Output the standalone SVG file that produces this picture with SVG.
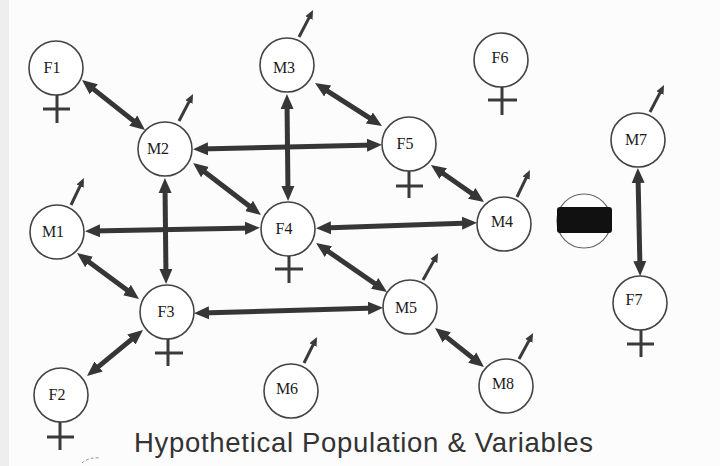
<svg xmlns="http://www.w3.org/2000/svg" width="720" height="466" viewBox="0 0 720 466">
  <style>
    .node circle { fill: #ffffff; stroke: #444; stroke-width: 1.6; }
    .lbl { font-family: "Liberation Serif", "Times New Roman", serif; font-size: 16px; fill: #1a1a1a; text-anchor: middle; }
    .venus { stroke: #3a3a3a; stroke-width: 3; fill: none; }
    .mars { stroke: #3a3a3a; stroke-width: 3; marker-end: url(#headSmall); }
    .link { stroke: #363636; stroke-width: 5; fill: none; marker-start: url(#headBig); marker-end: url(#headBig); }
    .title { font-family: "Liberation Sans", Arial, sans-serif; font-size: 27.5px; fill: #333; }
  </style>
  <defs>
    <marker id="headBig" viewBox="0 -7 15 14" refX="8" refY="0" markerWidth="15" markerHeight="14" markerUnits="userSpaceOnUse" orient="auto-start-reverse">
      <path d="M0,-6.5 L15,0 L0,6.5 z" fill="#363636"/>
    </marker>
    <marker id="headSmall" viewBox="0 -4.5 9 9" refX="5" refY="0" markerWidth="9" markerHeight="9" markerUnits="userSpaceOnUse" orient="auto">
      <path d="M0,-4 L9,0 L0,4 z" fill="#3a3a3a"/>
    </marker>
  </defs>

  <!-- paper -->
  <rect x="0" y="0" width="720" height="466" fill="#fcfcfc"/>
  <rect x="0" y="0" width="9" height="466" fill="#eeeeee"/>
  <path d="M82,463 q6,-6 18,-5" stroke="#999" stroke-width="1" stroke-dasharray="3 2" fill="none"/>

  <!-- relationships -->
  <g id="connectors">
    <line class="link" x1="87.5" y1="84.4" x2="139.5" y2="125.6"/>
    <line class="link" x1="200" y1="149" x2="375" y2="145"/>
    <line class="link" x1="287" y1="101" x2="288" y2="194"/>
    <line class="link" x1="320.9" y1="86.8" x2="376.1" y2="122.2"/>
    <line class="link" x1="198.6" y1="167.2" x2="255.4" y2="210.8"/>
    <line class="link" x1="165" y1="185" x2="166" y2="277"/>
    <line class="link" x1="92" y1="231" x2="253" y2="228"/>
    <line class="link" x1="323" y1="228" x2="470" y2="223"/>
    <line class="link" x1="436.7" y1="169" x2="478.3" y2="198"/>
    <line class="link" x1="82.6" y1="257.2" x2="133.4" y2="294.8"/>
    <line class="link" x1="321.8" y1="247" x2="381.2" y2="288"/>
    <line class="link" x1="201" y1="313" x2="376" y2="308"/>
    <line class="link" x1="137.6" y1="334.4" x2="92.4" y2="371.6"/>
    <line class="link" x1="440.5" y1="332.4" x2="478.5" y2="362.6"/>
    <line class="link" x1="638" y1="175" x2="640" y2="269"/>
  </g>

  <!-- females -->
  <g id="F1" class="node">
    <circle cx="56" cy="68" r="27"/>
    <path class="venus" d="M57,95 V123 M43,109 H70"/>
    <text class="lbl" x="52" y="73">F1</text>
  </g>
  <g id="F2" class="node">
    <circle cx="61" cy="395" r="27"/>
    <path class="venus" d="M60,422 V450 M47,437 H74"/>
    <text class="lbl" x="57" y="400">F2</text>
  </g>
  <g id="F3" class="node">
    <circle cx="167" cy="312" r="27"/>
    <path class="venus" d="M168,339 V366 M155,353 H183"/>
    <text class="lbl" x="166" y="317">F3</text>
  </g>
  <g id="F4" class="node">
    <circle cx="288" cy="229" r="27"/>
    <path class="venus" d="M289,256 V283 M275,269 H303"/>
    <text class="lbl" x="284" y="234">F4</text>
  </g>
  <g id="F5" class="node">
    <circle cx="409" cy="144" r="27"/>
    <path class="venus" d="M409,171 V198 M396,186 H423"/>
    <text class="lbl" x="405" y="149">F5</text>
  </g>
  <g id="F6" class="node">
    <circle cx="501" cy="60" r="27"/>
    <path class="venus" d="M502,87 V115 M488,100 H517"/>
    <text class="lbl" x="500" y="63">F6</text>
  </g>
  <g id="F7" class="node">
    <circle cx="640" cy="303" r="27"/>
    <path class="venus" d="M641,330 V357 M627,344 H654"/>
    <text class="lbl" x="634" y="305">F7</text>
  </g>

  <!-- males -->
  <g id="M1" class="node">
    <circle cx="57" cy="232" r="27"/>
    <line class="mars" x1="71" y1="205" x2="82.2" y2="181.6"/>
    <text class="lbl" x="53" y="237">M1</text>
  </g>
  <g id="M2" class="node">
    <circle cx="165" cy="149" r="27"/>
    <line class="mars" x1="179" y1="121" x2="191.2" y2="97.6"/>
    <text class="lbl" x="158" y="154">M2</text>
  </g>
  <g id="M3" class="node">
    <circle cx="287" cy="65" r="27"/>
    <line class="mars" x1="299" y1="37" x2="311.2" y2="13.6"/>
    <text class="lbl" x="284" y="73">M3</text>
  </g>
  <g id="M4" class="node">
    <circle cx="504" cy="224" r="27"/>
    <line class="mars" x1="517" y1="197" x2="528.2" y2="173.6"/>
    <text class="lbl" x="502" y="227">M4</text>
  </g>
  <g id="M5" class="node">
    <circle cx="410" cy="307" r="27"/>
    <line class="mars" x1="423" y1="280" x2="436.2" y2="256.6"/>
    <text class="lbl" x="406" y="313">M5</text>
  </g>
  <g id="M6" class="node">
    <circle cx="291" cy="391" r="27"/>
    <line class="mars" x1="304" y1="363" x2="315.2" y2="340.6"/>
    <text class="lbl" x="287" y="394">M6</text>
  </g>
  <g id="M7" class="node">
    <circle cx="638" cy="140" r="27"/>
    <line class="mars" x1="650" y1="112" x2="662.2" y2="88.6"/>
    <text class="lbl" x="636" y="145">M7</text>
  </g>
  <g id="M8" class="node">
    <circle cx="506" cy="386" r="27"/>
    <line class="mars" x1="519" y1="359" x2="531.2" y2="336.6"/>
    <text class="lbl" x="503" y="389">M8</text>
  </g>

  <!-- blacked-out individual -->
  <g id="hidden" class="node">
    <circle cx="584" cy="221" r="27" style="stroke:#666;stroke-width:1.2"/>
    <rect x="557" y="207" width="55" height="26" rx="3" fill="#111"/>
  </g>

  <text class="title" x="134" y="452" textLength="459" lengthAdjust="spacing">Hypothetical Population &amp; Variables</text>
</svg>
